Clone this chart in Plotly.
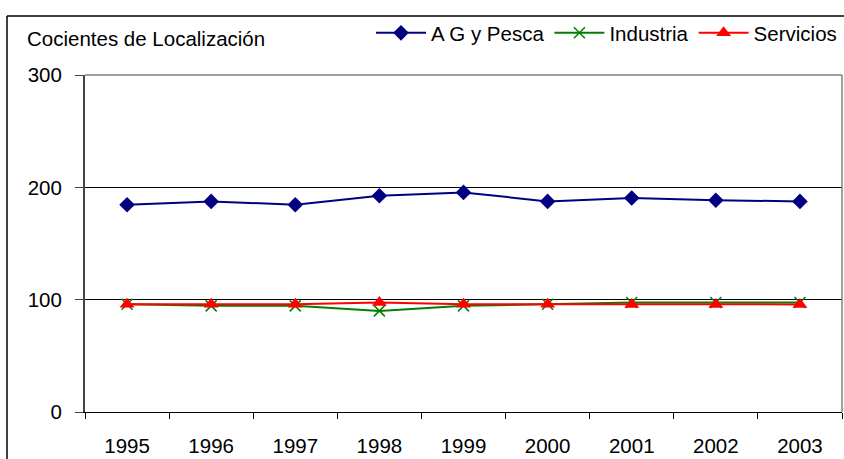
import plotly.graph_objects as go

years = ["1995", "1996", "1997", "1998", "1999", "2000", "2001", "2002", "2003"]
ag_pesca = [184.5, 187.5, 184.5, 192.5, 195.5, 187.5, 190.5, 188.5, 187.5]
industria = [96, 94.5, 94.5, 90, 94.5, 96, 97.5, 97.5, 97.5]
servicios = [96, 96, 96, 97.5, 96, 96, 95.8, 95.8, 95.8]
y_ticks = [0, 100, 200, 300]

W, H = 844, 459
L, R, T, B = 85, 2, 75, 47
PW, PH = W - L - R, H - T - B
FONT = "Liberation Sans, Arial, sans-serif"
FS = 20.5


def px_x(x):
    return (x - L) / PW


def px_y(y):
    return (H - B - y) / PH


fig = go.Figure()
fig.add_trace(go.Scatter(x=years, y=ag_pesca, name="A G y Pesca", mode="lines+markers",
                         line=dict(color="#000080", width=2),
                         marker=dict(symbol="diamond", size=12, color="#000080")))
fig.add_trace(go.Scatter(x=years, y=industria, name="Industria", mode="lines+markers",
                         line=dict(color="#008000", width=2),
                         marker=dict(symbol="x-thin-open", size=11, color="#008000",
                                     line=dict(color="#008000", width=1.5))))
fig.add_trace(go.Scatter(x=years, y=servicios, name="Servicios", mode="lines+markers",
                         line=dict(color="#FF0000", width=2),
                         marker=dict(symbol="triangle-up", size=13, color="#FF0000")))

fig.update_layout(
    width=W, height=H,
    margin=dict(l=L, r=R, t=T, b=B),
    paper_bgcolor="white", plot_bgcolor="white",
    font=dict(family=FONT, size=FS, color="black"),
    showlegend=True,
    legend=dict(orientation="h", x=1.0, xanchor="right", y=px_y(33), yanchor="middle",
                font=dict(family=FONT, size=FS), itemwidth=50,
                bgcolor="rgba(0,0,0,0)", tracegroupgap=0),
    xaxis=dict(type="category", tickson="boundaries", ticks="outside", ticklen=6,
               tickcolor="black", showline=True, linecolor="black", linewidth=1,
               showgrid=False, mirror=False, tickfont=dict(size=FS), range=[-0.5, 8.5],
               ticklabelstandoff=15),
    yaxis=dict(range=[0, 300], tickvals=y_ticks, ticks="outside", ticklen=8,
               tickcolor="#444", showline=True, linecolor="#444", linewidth=2,
               showgrid=True, gridcolor="black", gridwidth=1, zeroline=False,
               tickfont=dict(size=FS), ticklabelstandoff=9),
    annotations=[dict(text="Cocientes de Localización", xref="paper", yref="paper",
                      x=px_x(25), y=px_y(38),
                      xanchor="left", yanchor="middle", showarrow=False,
                      font=dict(family=FONT, size=FS))],
    shapes=[
        dict(type="line", xref="paper", yref="paper", x0=0, x1=1, y0=1, y1=1,
             line=dict(color="#808080", width=1.5)),
        dict(type="line", xref="paper", yref="paper", x0=1, x1=1, y0=0, y1=1,
             line=dict(color="#808080", width=1.5)),
        dict(type="line", xref="paper", yref="paper",
             x0=px_x(7), x1=px_x(W + 5), y0=px_y(16), y1=px_y(16),
             line=dict(color="black", width=1.5)),
        dict(type="line", xref="paper", yref="paper",
             x0=px_x(7), x1=px_x(7), y0=px_y(H + 5), y1=px_y(16),
             line=dict(color="black", width=1.5)),
    ],
)

fig.write_html("out.html", config={"displayModeBar": False},
               post_script="document.body.style.margin='0';document.body.style.overflow='hidden';")
